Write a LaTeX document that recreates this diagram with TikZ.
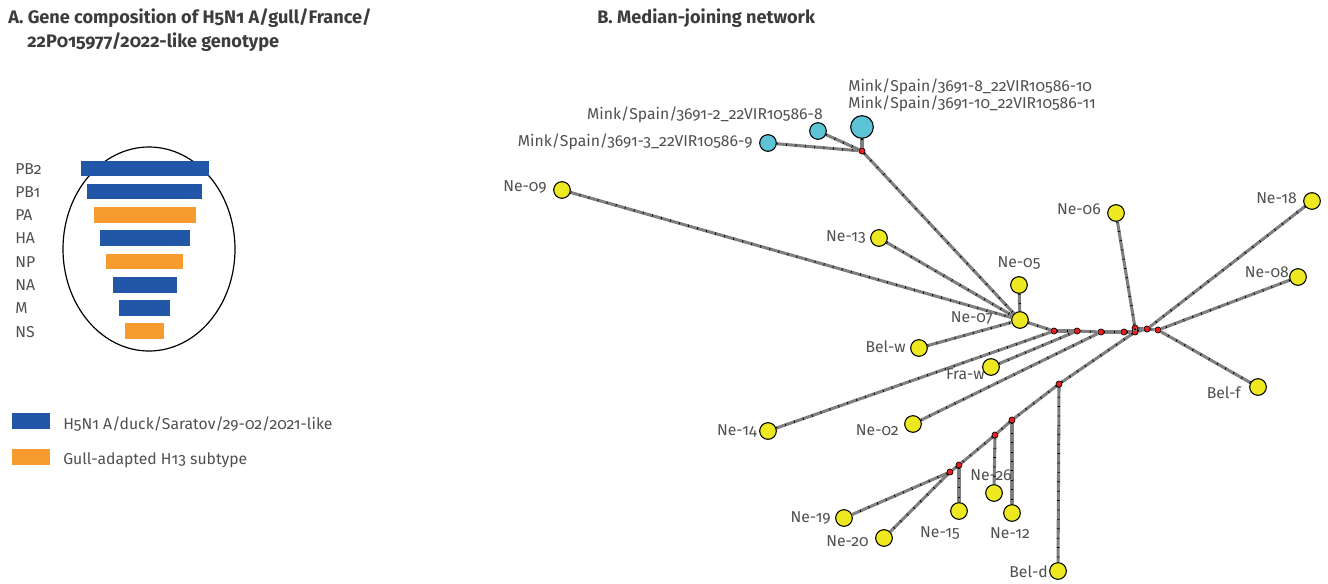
\documentclass[tikz,border=0pt]{standalone}
\usepackage{fontspec}
\setmainfont{Fira Sans}[Numbers=OldStyle]
\definecolor{genblue}{HTML}{2157A6}
\definecolor{genorange}{HTML}{F79B2E}
\definecolor{txtgray}{HTML}{505050}
\definecolor{ttlgray}{HTML}{3C3C3C}
\definecolor{edgegray}{HTML}{7F7F7F}
\definecolor{nyellow}{HTML}{EDE81F}
\definecolor{ncyan}{HTML}{5CC4D4}
\definecolor{nred}{HTML}{E8201F}
\tikzset{
  lbl/.style={inner sep=0pt, text=txtgray, font=\fontsize{11.8pt}{14pt}\selectfont},
  ttl/.style={inner sep=0pt, text=ttlgray, font=\fontsize{13.6pt}{16pt}\selectfont\bfseries, anchor=west},
  yel/.style={circle, draw=black, line width=0.8pt, fill=nyellow, minimum size=12.5pt, inner sep=0pt},
  cya/.style={circle, draw=black, line width=0.8pt, fill=ncyan, minimum size=12.5pt, inner sep=0pt},
  cyabig/.style={circle, draw=black, line width=0.8pt, fill=ncyan, minimum size=17pt, inner sep=0pt},
  med/.style={circle, draw=black, line width=0.5pt, fill=nred, minimum size=4.6pt, inner sep=0pt},
  edge/.style={draw=edgegray, line width=2.3pt,
    postaction={draw=black, line width=1.9pt, dash pattern=on 0.55pt off 6.5pt}},
}
\begin{document}
\begin{tikzpicture}[x=0.75pt,y=-0.75pt]
\useasboundingbox (0,0) rectangle (1328,583);
\fill[white] (0,0) rectangle (1328,583);

% ---------- Panel A ----------
\node[ttl] (tA1) at (8,18) {A. Gene composition of H5N1 A/gull/France/};
\node[ttl] (tA2) at (27,42) {22P015977/2022-like genotype};

\draw[black, line width=0.9pt] (149,249) ellipse [x radius=86, y radius=102];

\fill[genblue]   (81,161) rectangle (209,176);
\fill[genblue]   (87,184) rectangle (202,199);
\fill[genorange] (94,207) rectangle (196,223);
\fill[genblue]   (100,230) rectangle (190,246);
\fill[genorange] (106,254) rectangle (183,269);
\fill[genblue]   (113,277) rectangle (177,293);
\fill[genblue]   (119,300) rectangle (170,316);
\fill[genorange] (125,323) rectangle (164,339);

\node[lbl, anchor=west] (gPB2) at (15,169) {PB2};
\node[lbl, anchor=west] (gPB1) at (15,192) {PB1};
\node[lbl, anchor=west] (gPA)  at (15,215) {PA};
\node[lbl, anchor=west] (gHA)  at (15,238) {HA};
\node[lbl, anchor=west] (gNP)  at (15,262) {NP};
\node[lbl, anchor=west] (gNA)  at (15,285) {NA};
\node[lbl, anchor=west] (gM)   at (15,308) {M};
\node[lbl, anchor=west] (gNS)  at (15,332) {NS};

\fill[genblue]   (12,413) rectangle (50,429);
\fill[genorange] (12,449) rectangle (50,465);
\node[lbl, anchor=west] (legB) at (63,424) {H5N1 A/duck/Saratov/29-02/2021-like};
\node[lbl, anchor=west] (legO) at (63,460) {Gull-adapted H13 subtype};

% ---------- Panel B ----------
\node[ttl] (tB) at (597,18) {B. Median-joining network};

% mink nodes
\node[cya] (m9) at (768,143) {};
\node[cya] (m8) at (818,131) {};
\node[cyabig] (m10) at (862,127) {};
\node[med] (mk) at (862,151) {};

% yellow nodes
\node[yel] (ne09) at (562,190) {};
\node[yel] (ne13) at (879,238) {};
\node[yel] (ne05) at (1019,285) {};
\node[yel] (ne07) at (1020,320) {};
\node[yel] (belw) at (919,348) {};
\node[yel] (fraw) at (991,367) {};
\node[yel] (ne14) at (768,431) {};
\node[yel] (ne02) at (913,424) {};
\node[yel] (ne06) at (1116,213) {};
\node[yel] (ne18) at (1312,201) {};
\node[yel] (ne08) at (1298,277) {};
\node[yel] (belf) at (1258,387) {};
\node[yel] (beld) at (1058,571) {};
\node[yel] (ne19) at (844,518) {};
\node[yel] (ne20) at (884,538) {};
\node[yel] (ne15) at (959,511) {};
\node[yel] (ne26) at (994,493) {};
\node[yel] (ne12) at (1012,513) {};

% median vectors
\node[med] (r1) at (1054,331) {};
\node[med] (r2) at (1077,331) {};
\node[med] (r3) at (1101,332) {};
\node[med] (r4) at (1124,332) {};
\node[med] (r5) at (1135,328) {};
\node[med] (r6) at (1135,332) {};
\node[med] (r7) at (1147,329) {};
\node[med] (r8) at (1158,330) {};
\node[med] (q1) at (1059,384) {};
\node[med] (q2) at (1012,420) {};
\node[med] (q3) at (995,435) {};
\node[med] (q4) at (959,465) {};
\node[med] (q5) at (950,472) {};

% edges
\draw[edge] (m9) -- (mk);
\draw[edge] (m8) -- (mk);
\draw[edge] (m10) -- (mk);
\draw[edge] (mk) -- (ne07);
\draw[edge] (ne09) -- (ne07);
\draw[edge] (ne13) -- (ne07);
\draw[edge] (ne05) -- (ne07);
\draw[edge] (belw) -- (ne07);
\draw[edge] (ne07) -- (r1);
\draw[edge] (ne14) -- (r1);
\draw[edge] (r1) -- (r2);
\draw[edge] (fraw) -- (r2);
\draw[edge] (r2) -- (r3);
\draw[edge] (ne02) -- (r3);
\draw[edge] (r3) -- (r4);
\draw[edge] (r4) -- (r6);
\draw[edge] (r6) -- (r5);
\draw[edge] (r5) -- (r7);
\draw[edge] (r6) -- (r7);
\draw[edge] (r7) -- (r8);
\draw[edge] (ne06) -- (r5);
\draw[edge] (ne18) -- (r7);
\draw[edge] (ne08) -- (r8);
\draw[edge] (belf) -- (r8);
\draw[edge] (q1) -- (r6);
\draw[edge] (q1) -- (beld);
\draw[edge] (q1) -- (q2);
\draw[edge] (q2) -- (q3);
\draw[edge] (q3) -- (q4);
\draw[edge] (q4) -- (q5);
\draw[edge] (q2) -- (ne12);
\draw[edge] (q3) -- (ne26);
\draw[edge] (q4) -- (ne15);
\draw[edge] (q5) -- (ne19);
\draw[edge] (q5) -- (ne20);

% labels
\node[lbl, anchor=east] (l9) at (753,142) {Mink/Spain/3691-3\_22VIR10586-9};
\node[lbl, anchor=east] (l8) at (823,115) {Mink/Spain/3691-2\_22VIR10586-8};
\node[lbl, anchor=west] (l10) at (848,87) {Mink/Spain/3691-8\_22VIR10586-10};
\node[lbl, anchor=west] (l11) at (848,104) {Mink/Spain/3691-10\_22VIR10586-11};
\node[lbl, anchor=east] (lne09) at (547,187) {Ne-09};
\node[lbl, anchor=east] (lne13) at (866,237) {Ne-13};
\node[lbl] (lne05) at (1019,263) {Ne-05};
\node[lbl, anchor=east] (lne07) at (993,318) {Ne-07};
\node[lbl, anchor=east] (lbelw) at (906,347) {Bel-w};
\node[lbl, anchor=east] (lfraw) at (985,374) {Fra-w};
\node[lbl, anchor=east] (lne14) at (757,431) {Ne-14};
\node[lbl, anchor=east] (lne02) at (899,430) {Ne-02};
\node[lbl, anchor=east] (lne06) at (1101,209) {Ne-06};
\node[lbl, anchor=east] (lne18) at (1297,198) {Ne-18};
\node[lbl, anchor=east] (lne08) at (1289,272) {Ne-08};
\node[lbl, anchor=east] (lbelf) at (1241,393) {Bel-f};
\node[lbl, anchor=east] (lbeld) at (1048,572) {Bel-d};
\node[lbl, anchor=east] (lne19) at (831,518) {Ne-19};
\node[lbl, anchor=east] (lne20) at (869,541) {Ne-20};
\node[lbl] (lne15) at (940,533) {Ne-15};
\node[lbl] (lne26) at (991,475) {Ne-26};
\node[lbl] (lne12) at (1010,533) {Ne-12};
\end{tikzpicture}
\end{document}
